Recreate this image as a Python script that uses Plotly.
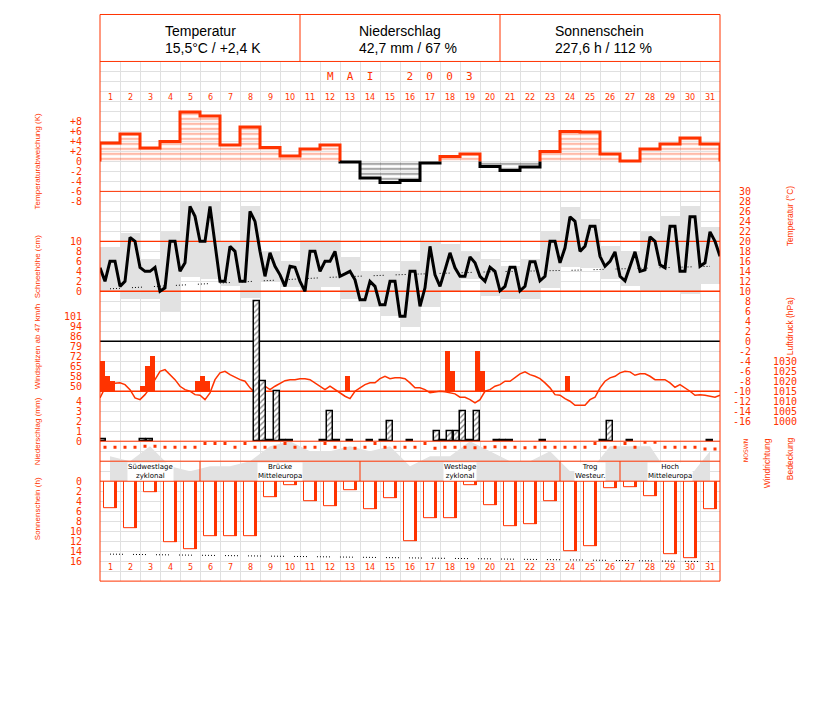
import plotly.graph_objects as go

W, H = 827, 702
RED = "#ff3300"
GRIDC = "#e0e0e0"
BOXC = "#e2e2e2"

# ---------------- data ----------------
days = list(range(1, 32))
day_labels = [str(d) for d in days]

header_titles = ["Temperatur", "Niederschlag", "Sonnenschein"]
header_values = ["15,5°C / +2,4 K", "42,7 mm / 67 %", "227,6 h / 112 %"]
month_title = "M  A  I     2  0  0  3"

# daily temperature anomaly (K)
anomaly = [3.7, 5.5, 2.7, 4.0, 9.9, 9.1, 3.3, 6.9, 2.8, 1.1, 2.5, 3.3, -0.1, -3.3, -4.2,
           -3.8, -0.3, 1.0, 1.5, -1.0, -1.8, -1.1, 2.0, 6.0, 5.9, 1.5, 0.1, 2.5, 3.5, 4.7, 3.5]

# air temperature, 4 values per day (°C)
temp_6h = [14.7, 12, 16, 16, 11, 12, 20.8, 20, 14.8, 14, 14, 14.8, 10, 10.7, 20, 20,
           14, 15.7, 27, 25, 20, 20, 27, 20, 12, 12, 19, 18, 12, 12, 26, 24,
           18, 13, 17.7, 15, 13.3, 11, 15, 14.8, 12, 10, 18, 18, 14, 16, 16, 18,
           13, 13.5, 14, 12.3, 8.3, 8.3, 12, 11, 7.3, 7.3, 12, 12, 5, 5, 14, 14,
           7, 10.7, 19, 13.3, 11, 14.3, 17.7, 14.7, 13, 13, 16.9, 15.7, 13, 12, 14.8, 14,
           10.1, 11, 14.8, 14.8, 10.1, 11, 15.9, 15.9, 12.1, 13, 20, 20, 15.7, 18.7, 24.9, 24,
           18, 19, 23, 23, 17, 15, 16, 17.9, 13, 12.1, 15, 17.9, 14, 14.3, 20.9, 20,
           15.3, 14.7, 23, 23, 14, 14, 24.9, 24.9, 15, 15.7, 21.9, 20, 17]

# daily extremes (°C)
tmax = [18.7, 21.5, 16.3, 22, 27.7, 27.7, 19.7, 27, 18, 15.7, 20.1, 20.1, 16.8, 14, 13.7, 16,
        20, 19.3, 18, 16.3, 15, 16.3, 21.7, 26.7, 24.3, 19, 17.7, 22, 25, 27, 22.7]
tmin = [10, 8.3, 8.3, 6, 12.8, 12.3, 11, 8.6, 12, 10.7, 10, 10.7, 8.4, 6.7, 5, 2.7,
        6.7, 10, 12.3, 9, 8.3, 8.3, 10.5, 14.7, 14.5, 12.3, 11, 10, 10, 9.3, 11.3]

# long-term mean temperature (°C)
clim_days = [1, 4, 8, 12, 16, 20, 24, 28, 31]
clim_temp = [10.5, 11.1, 12.0, 12.8, 13.4, 13.9, 14.2, 14.6, 15.0]

# air pressure, 4 values per day (hPa)
pressure_6h = [1011.7, 1016.7, 1018.3, 1019, 1019.2, 1018.3, 1015.8, 1011.7, 1010.8, 1013.3,
               1016.7, 1020.8, 1025, 1025.8, 1023.3, 1020.8, 1017.5, 1015.8, 1015, 1013.3,
               1013, 1010.8, 1014.2, 1020.8, 1024.2, 1025, 1023.3, 1022, 1020.8, 1020,
               1016.7, 1014.2, 1016.7, 1017.5, 1015.8, 1017.5, 1018.7, 1020.3, 1020.8, 1020.8,
               1021.3, 1021.3, 1020.8, 1019.2, 1017.5, 1015.8, 1017.5, 1015.8, 1014.2, 1012.5,
               1011.3, 1015, 1016.7, 1018.3, 1019.2, 1019.2, 1021.3, 1022.5, 1021.3, 1021.7,
               1021.7, 1021.3, 1019.2, 1016.7, 1016.7, 1015.8, 1014.2, 1014.7, 1015, 1014.7,
               1014.2, 1013.7, 1012, 1012, 1010.8, 1009.2, 1010.8, 1015, 1015.8, 1017.5,
               1018.3, 1020, 1020, 1021.7, 1023.7, 1024.7, 1023.3, 1022.5, 1021.3, 1019.2,
               1016.7, 1013.3, 1013, 1011.3, 1010, 1008, 1008, 1008, 1010.8, 1012,
               1016.7, 1020, 1021.7, 1022.5, 1024.2, 1025, 1024.7, 1023, 1023.7, 1023.7,
               1022.5, 1020.8, 1020.8, 1020.8, 1019.2, 1017, 1018.3, 1016.7, 1015, 1013,
               1013.3, 1013, 1012.5, 1012, 1013]

# reference levels drawn as lines
temp_ref_red = [20, 10]
temp_ref_black = 0
pres_ref = 1015

# wind gusts >= 47 km/h : day, quarter of day, km/h
gust_day = [1, 1, 1, 3, 3, 3, 5, 6, 6, 8, 13, 18, 18, 19, 20, 24]
gust_q = [0, 1, 2, 0, 1, 2, 3, 0, 1, 3, 1, 1, 2, 3, 0, 1]
gust_kmh = [68.4, 57.6, 54, 50.4, 64.8, 72, 54, 57.6, 54, 54, 57.6, 75.6, 61.2, 75.6, 61.2, 57.6]
GUST_BASE = 46.8

# precipitation: day, third of day, mm
prec_day = [1, 3, 3, 8, 9, 9, 9, 10, 10, 12, 12, 12, 13, 14, 15, 15, 16, 17, 18, 18, 18,
            19, 19, 19, 20, 21, 21, 23, 26, 26, 27, 31]
prec_third = [0, 0, 1, 2, 0, 1, 2, 0, 1, 0, 1, 2, 1, 1, 0, 1, 1, 2, 0, 1, 2,
              0, 1, 2, 2, 0, 1, 0, 0, 1, 1, 1]
prec_mm = [0.2, 0.2, 0.2, 14.0, 6.0, 0.1, 5.0, 0.1, 0.1, 0.1, 3.0, 0.1, 0.1, 0.1, 0.1, 2.0,
           0.1, 1.0, 0.1, 1.0, 1.0, 3.0, 0.1, 3.0, 0.1, 0.1, 0.1, 0.1, 0.1, 2.0, 0.1, 0.1]

# cloud cover (octas), daily
cloud = [5, 4, 7, 3, 2, 3, 3, 4, 7, 8, 6, 6, 7, 6, 7, 3, 5, 5, 8, 6, 4, 4, 6, 2, 2, 7, 7, 7, 1, 1, 6]
# wind direction (deg), twice per day
wind_dir = [250, 250, 250, 250, 270, 270, 250, 250, 250, 250, 320, 320, 320, 250, 320, 250,
            250, 250, 320, 250, 250, 250, 320, 250, 235, 235, 250, 320, 250, 250, 250, 250,
            320, 235, 250, 250, 250, 240, 250, 260, 250, 250, 240, 250, 250, 250, 250, 250,
            250, 320, 250, 250, 320, 250, 340, 340, 250, 250, 250, 250, 220, 220]

# sunshine duration (h)
sunshine = [5.4, 9.4, 2.2, 12.2, 13.6, 11, 11, 11, 3.2, 0.8, 4, 5, 1.8, 5.6, 3.4, 12,
            7.4, 7.4, 0.8, 4.8, 9, 8.6, 4, 14, 13, 1.4, 1.2, 3, 14.6, 15.4, 5.6]
# astronomically possible sunshine (h)
sunpos_days = [1, 5, 10, 15, 20, 25, 31]
sunpos_h = [14.6, 14.8, 15.1, 15.4, 15.7, 15.9, 16.1]

# Grosswetterlagen
gwl_names = ["Südwestlage<br>zyklonal", "Brücke<br>Mitteleuropa", "Westlage<br>zyklonal",
             "Trog<br>Westeur.", "Hoch<br>Mitteleuropa"]
gwl_start = [1, 6, 14, 24, 27]
gwl_end = [5, 13, 23, 26, 31]

# axis tick labels
anom_ticks = [-8, -6, -4, -2, 0, 2, 4, 6, 8]
anom_text = ["-8", "-6", "-4", "-2", "0", "+2", "+4", "+6", "+8"]
snow_ticks = [0, 2, 4, 6, 8, 10]
temp_ticks = list(range(-16, 31, 2))
gust_ms = [14, 16, 18, 20, 22, 24, 26, 28]
gust_text = ["50", "58", "65", "72", "79", "86", "94", "101"]
pres_ticks = [1000, 1005, 1010, 1015, 1020, 1025, 1030]
prec_ticks = [0, 1, 2, 3, 4]
sun_ticks = list(range(0, 17, 2))

# ---------------- helpers ----------------
XOFF = 8              # horizontal page offset of the rendered figure
YA, YS = 12.5, 0.985  # vertical placement of the rendered figure

def px(x):
    return (x - XOFF) / W

def py(y):
    return 1 - ((y - YA) / YS) / H

def dom(top, bottom):
    return [py(bottom), py(top)]

TICKFONT = dict(family="DejaVu Sans Mono", size=10, color=RED)

def yax(domain, rng, tickvals=None, ticktext=None, pos=None):
    d = dict(domain=domain, range=rng, showgrid=False, zeroline=False, showline=False,
             fixedrange=True, ticks="")
    if tickvals is None:
        d.update(visible=False)
    else:
        d.update(anchor="free", position=pos, side="left", tickvals=tickvals,
                 ticktext=ticktext if ticktext else [str(v) for v in tickvals],
                 tickfont=TICKFONT, ticklabelstandoff=1)
    return d

fig = go.Figure()

# background grid subplot (x / y)
fig.add_trace(go.Scatter(x=[100], y=[60], mode="markers", marker=dict(opacity=0),
                         hoverinfo="skip", showlegend=False, xaxis="x", yaxis="y"))

kx = [0.5 + k / 4 for k in range(len(temp_6h))]
hx = [0.75 + k / 2 for k in range(len(wind_dir))]
span = [days[0] - 0.5, days[-1] + 0.5]
dX = dict(xaxis="x2", showlegend=False, hoverinfo="skip")

# temperature anomaly (y2)
pos_anom = [a if a > 0 else None for a in anomaly]
neg_anom = [a if a < 0 else None for a in anomaly]
fig.add_trace(go.Bar(x=days, y=pos_anom, width=1, yaxis="y2",
                     marker=dict(color="rgba(0,0,0,0)", line=dict(width=0),
                                 pattern=dict(shape="-", fgcolor=RED, bgcolor="rgba(0,0,0,0)",
                                              size=5, solidity=0.3)), **dX))
fig.add_trace(go.Bar(x=days, y=neg_anom, width=1, yaxis="y2",
                     marker=dict(color="rgba(0,0,0,0)", line=dict(width=0),
                                 pattern=dict(shape="-", fgcolor="black", bgcolor="rgba(0,0,0,0)",
                                              size=5, solidity=0.3)), **dX))

def outline(sign):
    xs, ys = [], []
    prev_in = False
    for i, a in enumerate(anomaly):
        d = days[i]
        inside = (a > 0) if sign > 0 else (a < 0)
        if inside:
            if not prev_in:
                xs += [d - 0.5]; ys += [0]
            xs += [d - 0.5, d + 0.5]; ys += [a, a]
        else:
            if prev_in:
                xs += [d - 0.5, None]; ys += [0, None]
        prev_in = inside
    if prev_in:
        xs += [days[-1] + 0.5]; ys += [0]
    return xs, ys

ox, oy = outline(1)
fig.add_trace(go.Scatter(x=ox, y=oy, mode="lines", yaxis="y2", line=dict(color=RED, width=3), **dX))
ox, oy = outline(-1)
fig.add_trace(go.Scatter(x=ox, y=oy, mode="lines", yaxis="y2", line=dict(color="black", width=3), **dX))

# temperature panel (y4), snow axis (y3) only labels
fig.add_trace(go.Bar(x=days, y=[a - b for a, b in zip(tmax, tmin)], base=tmin, width=1,
                     yaxis="y4", marker=dict(color=BOXC, line=dict(width=0)), **dX))
for lv in temp_ref_red:
    fig.add_trace(go.Scatter(x=span, y=[lv, lv], mode="lines", yaxis="y4",
                             line=dict(color=RED, width=1.4), **dX))
fig.add_trace(go.Scatter(x=span, y=[temp_ref_black] * 2, mode="lines", yaxis="y4",
                         line=dict(color="black", width=1.4), **dX))
fig.add_trace(go.Scatter(x=clim_days, y=clim_temp, mode="lines", yaxis="y4",
                         line=dict(color="black", width=1,
                                   dash="1px,2px,1px,2px,1px,2px,1px,12px"), **dX))
fig.add_trace(go.Scatter(x=kx, y=temp_6h, mode="lines", yaxis="y4",
                         line=dict(color="black", width=3), **dX))
fig.add_trace(go.Scatter(x=[None], y=[None], yaxis="y3", **dX))

# gusts (y5)
gx = [d - 0.5 + (q + 0.5) / 4 for d, q in zip(gust_day, gust_q)]
fig.add_trace(go.Bar(x=gx, y=[g - GUST_BASE for g in gust_kmh], base=GUST_BASE, width=0.25,
                     yaxis="y5", marker=dict(color=RED, line=dict(width=0)), **dX))

# pressure (y6)
fig.add_trace(go.Scatter(x=span, y=[pres_ref, pres_ref], mode="lines", yaxis="y6",
                         line=dict(color=RED, width=1.4), **dX))
fig.add_trace(go.Scatter(x=kx, y=pressure_6h, mode="lines", yaxis="y6",
                         line=dict(color=RED, width=1.5), **dX))

# precipitation (y7)
prx = [d - 0.5 + (t + 0.5) / 3 for d, t in zip(prec_day, prec_third)]
fig.add_trace(go.Bar(x=prx, y=prec_mm, width=1 / 3 * 0.9, yaxis="y7",
                     marker=dict(color="white", line=dict(color="black", width=1.5),
                                 pattern=dict(shape="/", fgcolor="black", bgcolor="white",
                                              size=4, solidity=0.3)), **dX))

# cloud cover (y8) and wind direction (y9)
fig.add_trace(go.Scatter(x=days, y=cloud, mode="lines", fill="tozeroy", yaxis="y8",
                         line=dict(color=BOXC, width=0), fillcolor=BOXC, **dX))
fig.add_trace(go.Scatter(x=hx, y=wind_dir, mode="markers", yaxis="y9",
                         marker=dict(color=RED, size=3, symbol="square"), **dX))

# sunshine (y10)
fig.add_trace(go.Bar(x=days, y=sunshine, base=0, width=0.65, offset=-0.3, yaxis="y10",
                     marker=dict(color="white", line=dict(color=RED, width=1)), **dX))
fig.add_trace(go.Bar(x=days, y=sunshine, base=0, width=0.15, offset=0.2, yaxis="y10",
                     marker=dict(color=RED, line=dict(width=0)), **dX))
fig.add_trace(go.Scatter(x=sunpos_days, y=sunpos_h, mode="lines", yaxis="y10",
                         line=dict(color="black", width=1,
                                   dash="1px,2px,1px,2px,1px,2px,1px,2px,1px,10px"), **dX))

# ---------------- layout ----------------
LPOS = px(83)
layout = dict(
    width=W, height=H, margin=dict(l=0, r=0, t=0, b=0),
    paper_bgcolor="white", plot_bgcolor="rgba(0,0,0,0)",
    showlegend=False, barmode="overlay", bargap=0,
    xaxis=dict(domain=[px(100), px(720)], range=[100, 720], dtick=20, tick0=100,
               showgrid=True, gridcolor=GRIDC, gridwidth=1, zeroline=False,
               showticklabels=False, ticks="", fixedrange=True, anchor="y"),
    yaxis=dict(domain=dom(60, 580), range=[580, 60], dtick=10, tick0=60,
               showgrid=True, gridcolor=GRIDC, gridwidth=1, zeroline=False,
               showticklabels=False, ticks="", fixedrange=True, anchor="x"),
    xaxis2=dict(domain=[px(100), px(720)], range=[0.5, 31.5], visible=False,
                fixedrange=True, anchor="y2"),
    yaxis2=yax(dom(100, 205), [-9, 12], anom_ticks, anom_text, LPOS),
    yaxis3=yax(dom(190, 295), [-1, 20], snow_ticks, None, LPOS),
    yaxis4=yax(dom(190, 440), [-20, 30], temp_ticks, None, px(752)),
    yaxis5=yax(dom(290, 390), [GUST_BASE, GUST_BASE + 72],
               [v * 3.6 for v in gust_ms], gust_text, LPOS),
    yaxis6=yax(dom(340, 440), [990, 1040], pres_ticks, None, px(798)),
    yaxis7=yax(dom(290, 440), [0, 15], prec_ticks, None, LPOS),
    yaxis8=yax(dom(440, 480), [0, 8]),
    yaxis9=yax(dom(440, 460), [0, 360]),
    yaxis10=yax(dom(480, 565), [17, 0], sun_ticks, None, LPOS),
)
fig.update_layout(**layout)

shapes = []
def pline(x0, y0, x1, y1, color=RED, width=1, layer="above"):
    shapes.append(dict(type="line", xref="paper", yref="paper", x0=px(x0), y0=py(y0),
                       x1=px(x1), y1=py(y1), line=dict(color=color, width=width), layer=layer))

# frame and separators
shapes.append(dict(type="rect", xref="paper", yref="paper", x0=px(100), y0=py(580),
                   x1=px(720), y1=py(13), line=dict(color=RED, width=1), layer="above"))
for yy in [60, 190, 440, 460, 480]:
    pline(100, yy, 720, yy)
pline(300, 13, 300, 60)
pline(500, 13, 500, 60)
# weather type separators
for s in gwl_start[1:]:
    shapes.append(dict(type="line", xref="x2", yref="paper", x0=s - 0.5, x1=s - 0.5,
                       y0=py(480), y1=py(460), line=dict(color=RED, width=1), layer="above"))
fig.update_layout(shapes=shapes)

ann = []
for i, (t, v) in enumerate(zip(header_titles, header_values)):
    x0 = [163, 357, 553][i]
    for txt, yy in [(t, 30), (v, 47)]:
        ann.append(dict(text=txt, x=px(x0), y=py(yy), xref="paper", yref="paper", showarrow=False,
                        xanchor="left", yanchor="middle",
                        font=dict(family="Liberation Sans", size=14, color="black")))
ann.append(dict(text=month_title, x=px(400), y=py(75), xref="paper", yref="paper", showarrow=False,
                xanchor="center", yanchor="middle",
                font=dict(family="DejaVu Sans Mono", size=11, color=RED)))
for d, lab in zip(days, day_labels):
    for yy in [96, 566]:
        ann.append(dict(text=lab, x=d, y=py(yy), xref="x2", yref="paper", showarrow=False,
                        xanchor="center", yanchor="middle",
                        font=dict(family="DejaVu Sans", size=8, color=RED)))
for name, s, e in zip(gwl_names, gwl_start, gwl_end):
    ann.append(dict(text=name, x=(s + e) / 2, y=py(470), xref="x2", yref="paper", showarrow=False,
                    xanchor="center", yanchor="middle", bgcolor="white", borderpad=0,
                    font=dict(family="DejaVu Sans", size=7, color="black")))

left_titles = [("Temperaturabweichung (K)", 160), ("Schneehöhe (cm)", 266),
               ("Windspitzen ab 47 km/h", 346), ("Niederschlag (mm)", 430),
               ("Sonnenschein (h)", 508)]
for t, yy in left_titles:
    ann.append(dict(text=t, x=px(37), y=py(yy), xref="paper", yref="paper", showarrow=False,
                    textangle=-90, xanchor="center", yanchor="middle",
                    font=dict(family="Liberation Sans", size=8, color=RED)))
right_titles = [("Temperatur (°C)", 790, 215), ("Luftdruck (hPa)", 790, 325),
                ("Windrichtung", 767, 462), ("Bedeckung", 790, 458)]
for t, xx, yy in right_titles:
    ann.append(dict(text=t, x=px(xx), y=py(yy), xref="paper", yref="paper", showarrow=False,
                    textangle=-90, xanchor="center", yanchor="middle",
                    font=dict(family="Liberation Sans", size=8.5, color=RED)))
ann.append(dict(text="NOSWN", x=px(745), y=py(450), xref="paper", yref="paper", showarrow=False,
                textangle=-90, xanchor="center", yanchor="middle",
                font=dict(family="DejaVu Sans", size=6, color=RED)))
fig.update_layout(annotations=ann)

fig.write_html("out.html")
